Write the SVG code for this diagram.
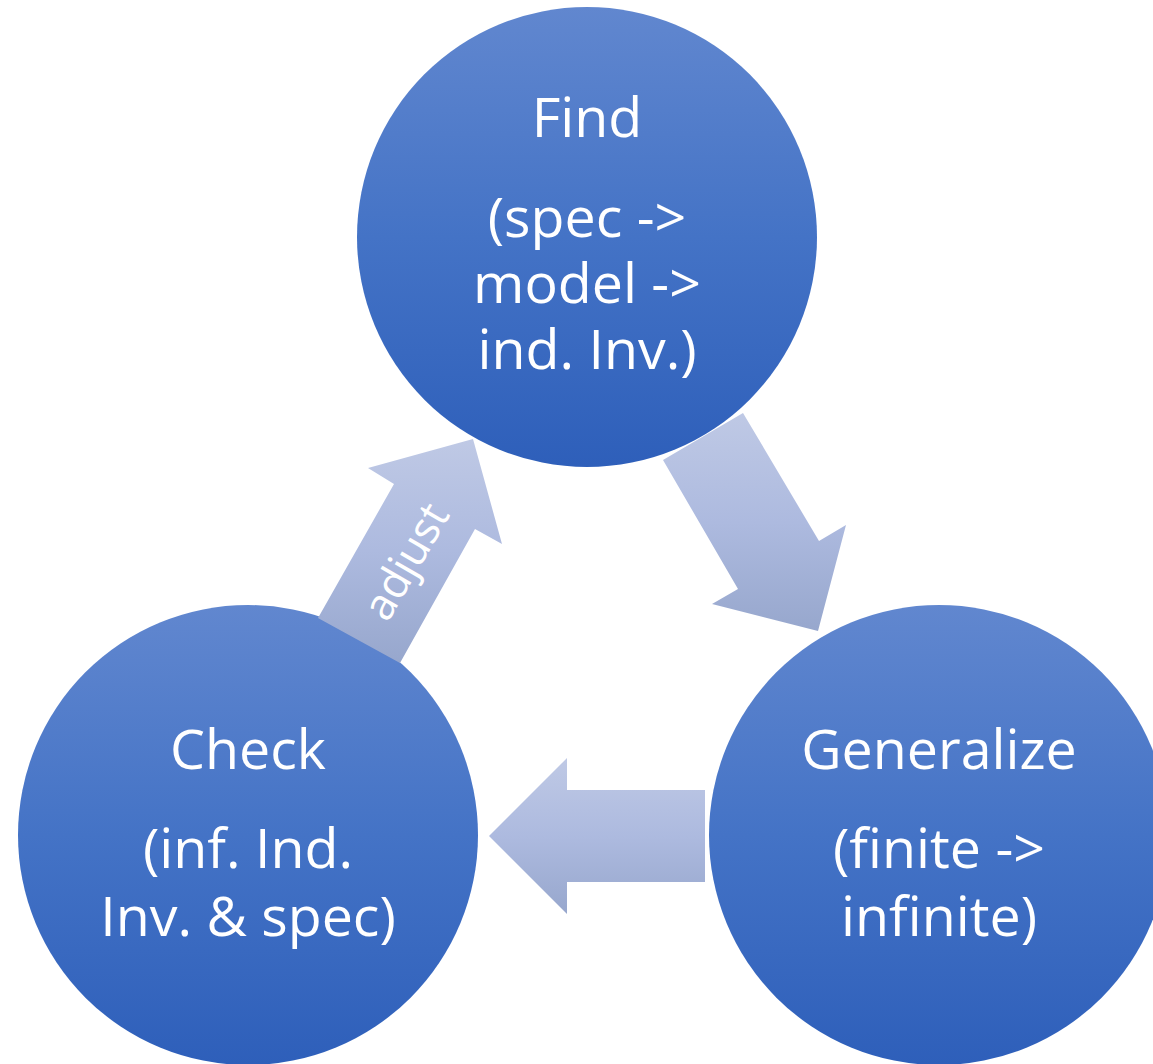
<svg xmlns="http://www.w3.org/2000/svg" width="1153" height="1064" viewBox="0 0 1153 1064">
  <defs>
    <linearGradient id="circleFill" x1="0" y1="0" x2="0" y2="1">
      <stop offset="0" stop-color="#6187cf"/>
      <stop offset="0.5" stop-color="#4473c6"/>
      <stop offset="1" stop-color="#2e5fba"/>
    </linearGradient>
    <linearGradient id="arrowFill" x1="0" y1="0" x2="0" y2="1">
      <stop offset="0" stop-color="#bfc9e5"/>
      <stop offset="0.5" stop-color="#adbadf"/>
      <stop offset="1" stop-color="#97a7cd"/>
    </linearGradient>
  </defs>
  <style>
    .node circle { fill: url(#circleFill); }
    .label { fill: #ffffff; font-family: "Open Sans", "Noto Sans", "DejaVu Sans", sans-serif; font-size: 55.5px; text-anchor: middle; }
    .arrow { fill: url(#arrowFill); }
    .arrow-label { fill: #ffffff; font-family: "Open Sans", "Noto Sans", "DejaVu Sans", sans-serif; font-size: 44px; text-anchor: middle; }
  </style>
  <rect width="1153" height="1064" fill="#ffffff"/>

  <g id="find" class="node">
    <circle cx="587" cy="237" r="230"/>
    <text class="label" x="587" y="137">Find</text>
    <text class="label" x="587" y="237">(spec -&gt;</text>
    <text class="label" x="587" y="303">model -&gt;</text>
    <text class="label" x="587" y="369">ind. Inv.)</text>
  </g>

  <g id="check" class="node">
    <circle cx="248" cy="835" r="230"/>
    <text class="label" x="248" y="769">Check</text>
    <text class="label" x="248" y="868">(inf. Ind.</text>
    <text class="label" x="248" y="936">Inv. &amp; spec)</text>
  </g>

  <g id="generalize" class="node">
    <circle cx="939" cy="835" r="230"/>
    <text class="label" x="939" y="769">Generalize</text>
    <text class="label" x="939" y="868">(finite -&gt;</text>
    <text class="label" x="939" y="936">infinite)</text>
  </g>

  <g id="connectors">
    <!-- Find to Generalize -->
    <polygon class="arrow" points="663,460 743,413 819,541 846,525 818,631 712,604 738,589"/>
    <!-- Generalize to Check -->
    <polygon class="arrow" points="705,790 567,790 567,758 489,836 567,914 567,882 705,882"/>
    <!-- Check to Find -->
    <polygon class="arrow" points="318,618 394,484 368,468 473,439 502,544 475,529 400,663"/>
    <text class="arrow-label" transform="translate(407,562) rotate(-60)" y="14">adjust</text>
  </g>
</svg>
